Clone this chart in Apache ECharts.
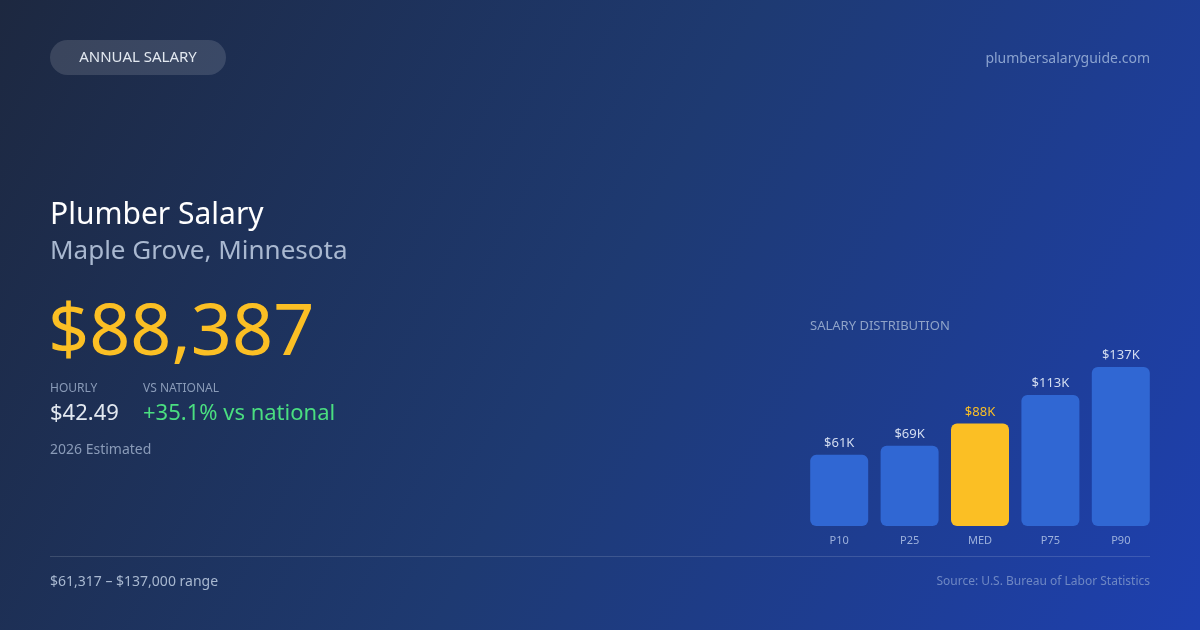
<!DOCTYPE html>
<html>
<head>
<meta charset="utf-8">
<script src="https://cdn.jsdelivr.net/npm/echarts@6/dist/echarts.min.js"></script>
<style>
html,body{margin:0;padding:0;background:#1e293b;}
#c{width:1200px;height:630px;}
</style>
</head>
<body>
<div id="c"></div>
<script>
const categories = ['P10', 'P25', 'MED', 'P75', 'P90'];
const salaryValues = [61317, 69200, 88387, 113000, 137000];
const valueLabels = ['$61K', '$69K', '$88K', '$113K', '$137K'];
const highlightIndex = 2;

const FONT = '"Noto Sans", "Open Sans", sans-serif';
const chart = echarts.init(document.getElementById('c'), null, {renderer: 'canvas'});

function txt(x, y, text, size, color, align, extra) {
  return Object.assign({
    type: 'text', x: x, y: y, silent: true,
    style: {text: text, fontFamily: FONT, fontSize: size, fill: color,
      textAlign: align || 'left', textVerticalAlign: 'middle'}
  }, extra || {});
}

const option = {
  backgroundColor: {
    type: 'linear', x: 0, y: 0, x2: 1, y2: 1,
    colorStops: [
      {offset: 0, color: '#1d2840'},
      {offset: 0.5, color: '#1e3a72'},
      {offset: 1, color: '#1e40b0'}
    ]
  },
  animation: false,
  grid: {left: 804, right: 44, top: 352, bottom: 104},
  xAxis: {
    type: 'category', data: categories,
    axisLine: {show: false}, axisTick: {show: false},
    axisLabel: {color: '#9db1dc', fontSize: 11, fontFamily: FONT, margin: 9}
  },
  yAxis: {
    type: 'value', min: 0, max: 150000,
    show: false, splitLine: {show: false}
  },
  series: [{
    type: 'bar',
    barWidth: 58,
    data: salaryValues.map((v, i) => ({
      value: v,
      itemStyle: {color: i === highlightIndex ? '#fbbf24' : '#3067d3', borderRadius: 6},
      label: {color: i === highlightIndex ? '#fbbf24' : '#d3ddf0'}
    })),
    label: {
      show: true, position: 'top', distance: 5,
      fontSize: 13, fontFamily: FONT,
      formatter: p => valueLabels[p.dataIndex]
    }
  }],
  graphic: [
    {type: 'rect', silent: true, shape: {x: 50, y: 40, width: 176, height: 35, r: 17.5},
      style: {fill: 'rgba(255,255,255,0.13)'}},
    txt(138, 58, 'ANNUAL SALARY', 15, '#e2e8f0', 'center'),
    txt(1150, 59, 'plumbersalaryguide.com', 14, '#8aa2cf', 'right'),
    txt(50, 215, 'Plumber Salary', 30, '#ffffff'),
    txt(50, 252, 'Maple Grove, Minnesota', 26, '#a9b8d0'),
    txt(48, 334, '$88,387', 72, '#fbbf24'),
    txt(50, 389, 'HOURLY', 12, '#8a9bb8'),
    txt(143, 389, 'VS NATIONAL', 12, '#8a9bb8'),
    txt(50, 414, '$42.49', 22, '#e2e8f0'),
    txt(143, 414, '+35.1% vs national', 22, '#4ade80'),
    txt(50, 450, '2026 Estimated', 14, '#8a9bb8'),
    txt(810, 326, 'SALARY DISTRIBUTION', 13, '#8fa3c8'),
    {type: 'line', silent: true, shape: {x1: 50, y1: 556.5, x2: 1150, y2: 556.5},
      style: {stroke: 'rgba(255,255,255,0.14)', lineWidth: 1}},
    txt(50, 582, '$61,317 – $137,000 range', 14, '#a8b8d0'),
    txt(1150, 582, 'Source: U.S. Bureau of Labor Statistics', 12, '#6f88c4', 'right')
  ]
};
chart.setOption(option);
</script>
</body>
</html>
